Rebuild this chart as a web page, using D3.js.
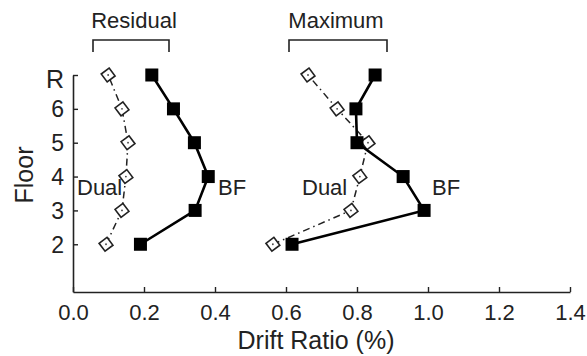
<!DOCTYPE html>
<html>
<head>
<meta charset="utf-8">
<script src="https://cdn.jsdelivr.net/npm/d3@7"></script>
<style>
  body { margin: 0; background: #fff; }
  text { font-family: "Liberation Sans", Arial, sans-serif; fill: #222; }
</style>
</head>
<body>
<div id="chart"></div>
<script>
// floors, bottom to top (R = roof, plotted as 7)
const floors = [2, 3, 4, 5, 6, 7];
const floorLabels = ['2', '3', '4', '5', '6', 'R'];
const xTicks = [0, 0.2, 0.4, 0.6, 0.8, 1.0, 1.2, 1.4];

// residual drift ratio (%)
const residualDual = [0.093, 0.138, 0.149, 0.155, 0.138, 0.099];
const residualBF = [0.19, 0.344, 0.381, 0.342, 0.283, 0.222];

// maximum drift ratio (%)
const maximumDual = [0.563, 0.783, 0.808, 0.831, 0.744, 0.662];
const maximumBF = [0.617, 0.989, 0.93, 0.80, 0.797, 0.851];

const width = 587;
const height = 356;

const svg = d3.select('#chart')
  .append('svg')
  .attr('width', width)
  .attr('height', height);

const x = d3.scaleLinear().domain([0, 1.4]).range([73, 570]);
const y = d3.scaleLinear().domain([0.59, 7]).range([292, 75]);

// axes
const xAxis = d3.axisBottom(x)
  .tickValues(xTicks)
  .tickFormat(d3.format('.1f'))
  .tickSizeInner(-5)
  .tickSizeOuter(0)
  .tickPadding(12);

const gx = svg.append('g')
  .attr('transform', `translate(0,${y(0.59)})`)
  .call(xAxis);

gx.select('.domain').attr('stroke', '#222').attr('stroke-width', 1.6);
gx.selectAll('.tick line').attr('stroke', '#222').attr('stroke-width', 1.4);
gx.selectAll('.tick text')
  .attr('font-size', 22)
  .attr('dy', '0.72em')
  .style('font-family', '"Liberation Sans", Arial, sans-serif')
  .attr('fill', '#222');

const yAxis = d3.axisLeft(y)
  .tickValues(floors)
  .tickFormat((d, i) => floorLabels[i])
  .tickSizeInner(-5)
  .tickSizeOuter(0)
  .tickPadding(9);

const gy = svg.append('g')
  .attr('transform', `translate(${x(0)},0)`)
  .call(yAxis);

gy.select('.domain').attr('stroke', '#222').attr('stroke-width', 1.6);
gy.selectAll('.tick line').attr('stroke', '#222').attr('stroke-width', 1.4);
gy.selectAll('.tick text')
  .attr('font-size', (d, i) => floorLabels[i] === 'R' ? 25 : 23)
  .attr('dy', (d, i) => floorLabels[i] === 'R' ? '0.5em' : '0.34em')
  .style('font-family', '"Liberation Sans", Arial, sans-serif')
  .attr('fill', '#222');

// axis titles
svg.append('text')
  .attr('x', 316)
  .attr('y', 349)
  .attr('text-anchor', 'middle')
  .attr('font-size', 25)
  .text('Drift Ratio (%)');

svg.append('text')
  .attr('transform', 'translate(33,175) rotate(-90)')
  .attr('text-anchor', 'middle')
  .attr('font-size', 25)
  .text('Floor');

// group headers with brackets
const groups = [
  { name: 'Residual', tx: 134, x0: 93, x1: 169 },
  { name: 'Maximum', tx: 336, x0: 289, x1: 387 }
];

groups.forEach(g => {
  svg.append('text')
    .attr('x', g.tx)
    .attr('y', 28)
    .attr('text-anchor', 'middle')
    .attr('font-size', 22)
    .text(g.name);

  svg.append('path')
    .attr('d', `M${g.x0},52V40H${g.x1}V52`)
    .attr('fill', 'none')
    .attr('stroke', '#222')
    .attr('stroke-width', 1.6);
});

// series
const line = d3.line()
  .x(d => x(d[0]))
  .y(d => y(d[1]));

function drawDual(values) {
  const pts = values.map((v, i) => [v, floors[i]]);

  svg.append('path')
    .datum(pts)
    .attr('d', line)
    .attr('fill', 'none')
    .attr('stroke', '#222')
    .attr('stroke-width', 1.5)
    .attr('stroke-dasharray', '7,4,1.5,4');

  const g = svg.append('g');
  g.selectAll('path')
    .data(pts)
    .enter()
    .append('path')
    .attr('d', 'M0,-7L7,0L0,7L-7,0Z')
    .attr('transform', d => `translate(${x(d[0])},${y(d[1])}) rotate(8)`)
    .attr('fill', '#fff')
    .attr('stroke', '#222')
    .attr('stroke-width', 1.6);

  g.selectAll('circle')
    .data(pts)
    .enter()
    .append('circle')
    .attr('cx', d => x(d[0]))
    .attr('cy', d => y(d[1]))
    .attr('r', 0.9)
    .attr('fill', '#444');
}

function drawBF(values) {
  const pts = values.map((v, i) => [v, floors[i]]);

  svg.append('path')
    .datum(pts)
    .attr('d', line)
    .attr('fill', 'none')
    .attr('stroke', '#000')
    .attr('stroke-width', 2.6);

  svg.append('g')
    .selectAll('rect')
    .data(pts)
    .enter()
    .append('rect')
    .attr('x', d => x(d[0]) - 6.5)
    .attr('y', d => y(d[1]) - 6.5)
    .attr('width', 13)
    .attr('height', 13)
    .attr('fill', '#000');
}

drawDual(residualDual);
drawBF(residualBF);
drawDual(maximumDual);
drawBF(maximumBF);

// series labels
const labels = [
  { text: 'Dual', x: 77 },
  { text: 'BF', x: 218 },
  { text: 'Dual', x: 302 },
  { text: 'BF', x: 432 }
];

svg.append('g')
  .selectAll('text')
  .data(labels)
  .enter()
  .append('text')
  .attr('x', d => d.x)
  .attr('y', 195)
  .attr('font-size', 22)
  .text(d => d.text);
</script>
</body>
</html>
